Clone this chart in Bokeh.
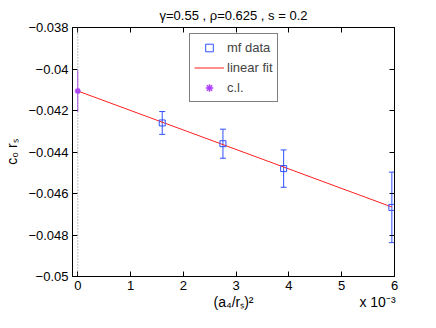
from bokeh.plotting import figure
from bokeh.models import (ColumnDataSource, Whisker, TeeHead, Span, Legend, LegendItem,
                          LinearAxis, FixedTicker, CustomJSTickFormatter, Range1d)
from bokeh.embed import file_html
from bokeh.resources import INLINE

# ---- data ----
mf_x = [0.0016, 0.00275, 0.0039, 0.00595]
mf_y = [-0.0426, -0.0436, -0.0448, -0.04667]
mf_err = [0.00055, 0.0007, 0.0009, 0.0017]
fit_x = [0.0, 0.00595]
fit_y = [-0.04106, -0.04665]
cl_x = [0.0]
cl_y = [-0.04106]
cl_err = [0.001]
x_ticks = [0.0, 0.001, 0.002, 0.003, 0.004, 0.005, 0.006]
y_ticks = [-0.05, -0.048, -0.046, -0.044, -0.042, -0.04, -0.038]
title_text = "γ=0.55 , ρ=0.625 , s = 0.2"
x_label = "(a\u2084/r\u209b)\u00b2"
x_mult = "x 10\u207b\u00b3"
y_label = "c\u2080 r\u209b"

FONT = "Liberation Sans"
BLUE = "#3050ff"
RED = "#ff2020"
MAG = "#b040ff"

X0, X1 = -0.0001, 0.006
Y0, Y1 = -0.05, -0.038

FL, FR, FT, FB = 72, 394, 25, 276
W, H = 420, 312

p = figure(width=W, height=H, output_backend="svg", toolbar_location=None,
           x_range=Range1d(X0, X1), y_range=Range1d(Y0, Y1),
           min_border_left=FL, min_border_right=W - FR, min_border_top=FT, min_border_bottom=H - FB,
           x_axis_location=None, y_axis_location=None)
p.grid.visible = False
p.outline_line_color = "black"
p.background_fill_color = "white"
p.border_fill_color = "white"

p.title.text = title_text
p.title.align = "center"
p.title.text_font = FONT
p.title.text_font_size = "13px"
p.title.text_font_style = "normal"
p.title.text_color = "black"
try:
    p.title.standoff = 10
except Exception:
    pass

xfmt = CustomJSTickFormatter(code="return (tick*1000).toFixed(0);")
yfmt = CustomJSTickFormatter(code="return String(+tick.toFixed(3)).replace('-', '\u2212');")

def make_axis(ticks, fmt, labels=True):
    ax = LinearAxis(ticker=FixedTicker(ticks=ticks), formatter=fmt)
    ax.major_tick_in = 5
    ax.major_tick_out = 0
    ax.minor_tick_in = 0
    ax.minor_tick_out = 0
    ax.axis_line_color = "black"
    ax.major_tick_line_color = "black"
    ax.major_label_text_font = FONT
    ax.major_label_text_font_size = "13px"
    ax.major_label_text_color = "black"
    ax.major_label_standoff = 4
    ax.axis_label_text_font = FONT
    ax.axis_label_text_font_size = "14px"
    ax.axis_label_text_font_style = "normal"
    ax.axis_label_text_color = "black"
    if not labels:
        ax.major_label_text_alpha = 0
        ax.major_label_text_font_size = "1px"
        ax.major_label_standoff = 0
    return ax

# px position along the x axis -> data coordinate (for placing the label row)
def px_to_x(v):
    return X0 + (v - FL) / (FR - FL) * (X1 - X0)

bottom = make_axis(x_ticks, xfmt)
left = make_axis(y_ticks, yfmt)
left.axis_label = y_label
left.axis_label_standoff = 5
p.add_layout(bottom, "below")
p.add_layout(left, "left")
p.add_layout(make_axis(x_ticks, xfmt, False), "above")
p.add_layout(make_axis(y_ticks, yfmt, False), "right")

# second row below the x axis: x-axis label (centred) and the exponent multiplier (right)
lab_pos = [px_to_x((FL + FR) / 2), px_to_x(377)]
row_fmt = CustomJSTickFormatter(args=dict(a=x_label, b=x_mult),
                                code="return tick < 0.005 ? a : b;")
row = LinearAxis(ticker=FixedTicker(ticks=lab_pos), formatter=row_fmt)
row.axis_line_color = None
row.major_tick_line_color = None
row.minor_tick_line_color = None
row.major_tick_in = 0
row.major_tick_out = 0
row.major_label_standoff = 1
row.major_label_text_font = FONT
row.major_label_text_font_size = "14px"
row.major_label_text_color = "black"
p.add_layout(row, "below")

# dotted line at x=0
p.add_layout(Span(location=0, dimension="height", line_color="#808080",
                  line_dash="1 2", line_width=1))

# fit line
fit_r = p.line(fit_x, fit_y, line_color=RED, line_width=1)

# mf data with error bars
src = ColumnDataSource(dict(x=mf_x, y=mf_y,
                            upper=[y + e for y, e in zip(mf_y, mf_err)],
                            lower=[y - e for y, e in zip(mf_y, mf_err)]))
wh = Whisker(source=src, base="x", upper="upper", lower="lower", dimension="height",
             line_color=BLUE, line_width=1,
             upper_head=TeeHead(size=6, line_color=BLUE, line_width=1),
             lower_head=TeeHead(size=6, line_color=BLUE, line_width=1))
p.add_layout(wh)
mf_r = p.scatter("x", "y", source=src, marker="square", size=6, fill_color=None,
                 line_color=BLUE, line_width=1)

# c.l. point
cl_src = ColumnDataSource(dict(x=cl_x, y=cl_y,
                               y0=[y - e for y, e in zip(cl_y, cl_err)],
                               y1=[y + e for y, e in zip(cl_y, cl_err)]))
p.segment(x0="x", y0="y0", x1="x", y1="y1", source=cl_src, line_color=MAG, line_width=1)
cl_r = p.scatter("x", "y", source=cl_src, marker="asterisk", size=6, line_color=MAG, line_width=1.5)

legend = Legend(items=[LegendItem(label="mf data", renderers=[mf_r]),
                       LegendItem(label="linear fit", renderers=[fit_r]),
                       LegendItem(label="c.l.", renderers=[cl_r])],
                location=(117, 174), orientation="vertical",
                label_text_font=FONT, label_text_font_size="13px",
                glyph_width=30, glyph_height=19, label_height=19, label_standoff=3,
                spacing=1, padding=4, margin=0,
                border_line_color="black", border_line_width=1,
                background_fill_color="white", background_fill_alpha=1)
p.add_layout(legend, "center")

open("out.html", "w").write(file_html(p, INLINE))
